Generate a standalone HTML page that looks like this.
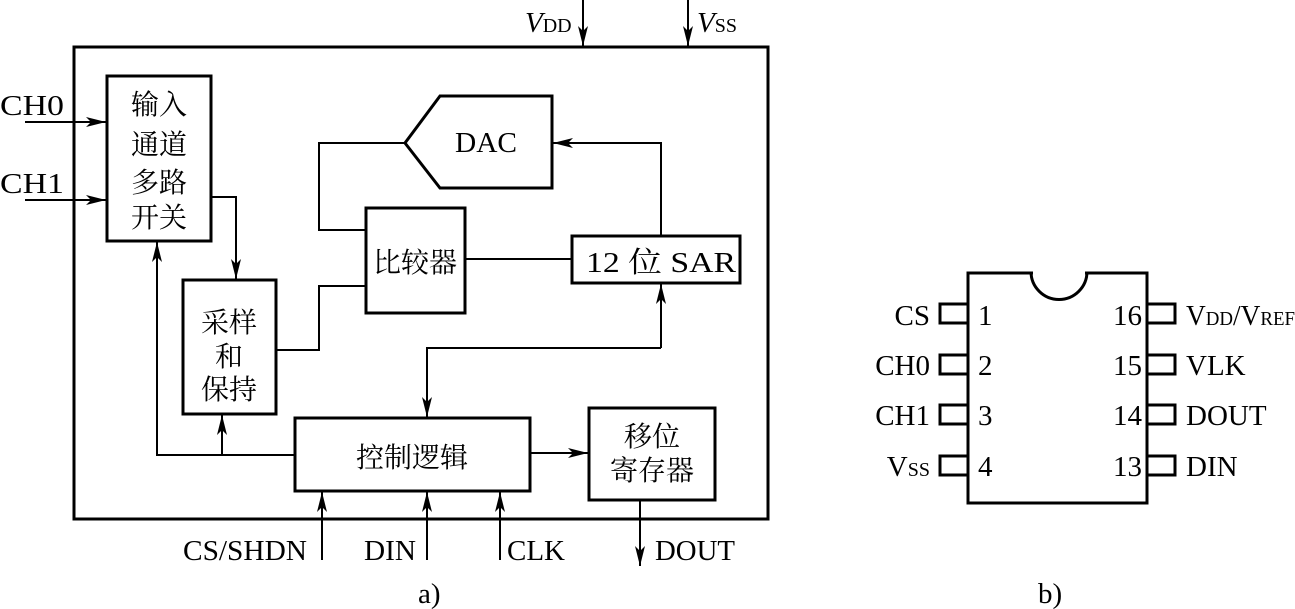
<!DOCTYPE html>
<html><head><meta charset="utf-8"><style>
html,body{margin:0;padding:0;background:#fff}
svg{display:block}
text{font-family:"Liberation Serif","Noto Serif CJK SC",serif;fill:#000}
.c{font-family:"Liberation Serif","Noto Serif CJK SC","Noto Sans CJK SC",serif}
</style></head><body>
<svg width="1295" height="609" viewBox="0 0 1295 609" xmlns="http://www.w3.org/2000/svg">
<defs>
<marker id="a" viewBox="0 0 20 10" refX="20" refY="5" markerWidth="20" markerHeight="10" markerUnits="userSpaceOnUse" orient="auto"><path d="M0,0 L20,5 L0,10 L5,5 Z" fill="#000"/></marker>
</defs>
<g fill="none" stroke="#000" stroke-width="3">
<rect x="74" y="47" width="694" height="472"/>
<rect x="107" y="76" width="104" height="165"/>
<polygon points="440,96 552,96 552,188 440,188 405,143"/>
<rect x="366" y="208" width="99" height="105"/>
<rect x="572" y="236" width="168" height="47"/>
<rect x="183" y="280" width="93" height="134"/>
<rect x="295" y="418" width="235" height="73"/>
<rect x="589" y="408" width="126" height="92"/>
<rect x="968" y="273" width="179" height="230"/>
</g>
<line x1="1033" y1="273" x2="1085" y2="273" stroke="#fff" stroke-width="4"/>
<path d="M1031,271.5 A28,28 0 0 0 1087,271.5" fill="none" stroke="#000" stroke-width="3"/>
<g fill="none" stroke="#000" stroke-width="2">
<line x1="583" y1="0" x2="583" y2="46" marker-end="url(#a)"/>
<line x1="688" y1="0" x2="688" y2="46" marker-end="url(#a)"/>
<line x1="25" y1="122" x2="106" y2="122" marker-end="url(#a)"/>
<line x1="25" y1="200" x2="106" y2="200" marker-end="url(#a)"/>
<polyline points="405,143 319,143 319,230 366,230"/>
<polyline points="661,236 661,143 553,143" marker-end="url(#a)"/>
<line x1="465" y1="259" x2="572" y2="259"/>
<polyline points="211,197 236,197 236,279" marker-end="url(#a)"/>
<polyline points="276,350 319,350 319,286 366,286"/>
<polyline points="295,455 157,455 157,242" marker-end="url(#a)"/>
<line x1="222" y1="455" x2="222" y2="415" marker-end="url(#a)"/>
<polyline points="661,348 427,348 427,417" marker-end="url(#a)"/>
<line x1="661" y1="348" x2="661" y2="284" marker-end="url(#a)"/>
<line x1="530" y1="453" x2="588" y2="453" marker-end="url(#a)"/>
<line x1="322" y1="560" x2="322" y2="492" marker-end="url(#a)"/>
<line x1="427" y1="560" x2="427" y2="492" marker-end="url(#a)"/>
<line x1="500" y1="560" x2="500" y2="492" marker-end="url(#a)"/>
<line x1="640" y1="500" x2="640" y2="566" marker-end="url(#a)"/>
</g>
<g fill="none" stroke="#000" stroke-width="3">
<rect x="940" y="304" width="28" height="19"/><rect x="940" y="355" width="28" height="19"/>
<rect x="940" y="405" width="28" height="19"/><rect x="940" y="456" width="28" height="19"/>
<rect x="1147" y="304" width="28" height="19"/><rect x="1147" y="355" width="28" height="19"/>
<rect x="1147" y="405" width="28" height="19"/><rect x="1147" y="456" width="28" height="19"/>
</g>
<g font-size="29">
<text x="525" y="32"><tspan font-style="italic">V</tspan><tspan font-size="20">DD</tspan></text>
<text x="697" y="32"><tspan font-style="italic">V</tspan><tspan font-size="20">SS</tspan></text>
<text x="0" y="115" textLength="64" lengthAdjust="spacingAndGlyphs">CH0</text>
<text x="0" y="193" textLength="64" lengthAdjust="spacingAndGlyphs">CH1</text>
<g text-anchor="middle" font-size="28">
<text class="c" x="159" y="114">输入</text>
<text class="c" x="159" y="154">通道</text>
<text class="c" x="159" y="192">多路</text>
<text class="c" x="159" y="227">开关</text>
<text class="c" x="229" y="332">采样</text>
<text class="c" x="229" y="366">和</text>
<text class="c" x="229" y="399">保持</text>
<text class="c" x="415" y="272">比较器</text>
<text class="c" x="412" y="467">控制逻辑</text>
<text class="c" x="652" y="446">移位</text>
<text class="c" x="652" y="480">寄存器</text>
</g>
<text x="455" y="152" textLength="62" lengthAdjust="spacingAndGlyphs">DAC</text>
<text x="586" y="272" textLength="150" lengthAdjust="spacingAndGlyphs">12 <tspan class="c">位</tspan> SAR</text>
<text x="183" y="560" textLength="124" lengthAdjust="spacingAndGlyphs">CS/SHDN</text>
<text x="364" y="560" textLength="52" lengthAdjust="spacingAndGlyphs">DIN</text>
<text x="507" y="560" textLength="58" lengthAdjust="spacingAndGlyphs">CLK</text>
<text x="655" y="560" textLength="80" lengthAdjust="spacingAndGlyphs">DOUT</text>
<text x="418" y="603">a)</text>
<text x="1038" y="603">b)</text>
<g text-anchor="end">
<text x="930" y="325">CS</text>
<text x="930" y="375">CH0</text>
<text x="930" y="425">CH1</text>
<text x="930" y="476">V<tspan font-size="20">SS</tspan></text>
<text x="1142" y="325">16</text>
<text x="1142" y="375">15</text>
<text x="1142" y="425">14</text>
<text x="1142" y="476">13</text>
</g>
<text x="978" y="325">1</text>
<text x="978" y="375">2</text>
<text x="978" y="425">3</text>
<text x="978" y="476">4</text>
<text x="1186" y="325" textLength="109" lengthAdjust="spacingAndGlyphs">V<tspan font-size="20">DD</tspan>/V<tspan font-size="20">REF</tspan></text>
<text x="1186" y="375">VLK</text>
<text x="1186" y="425">DOUT</text>
<text x="1186" y="476">DIN</text>
</g>
</svg>
</body></html>
